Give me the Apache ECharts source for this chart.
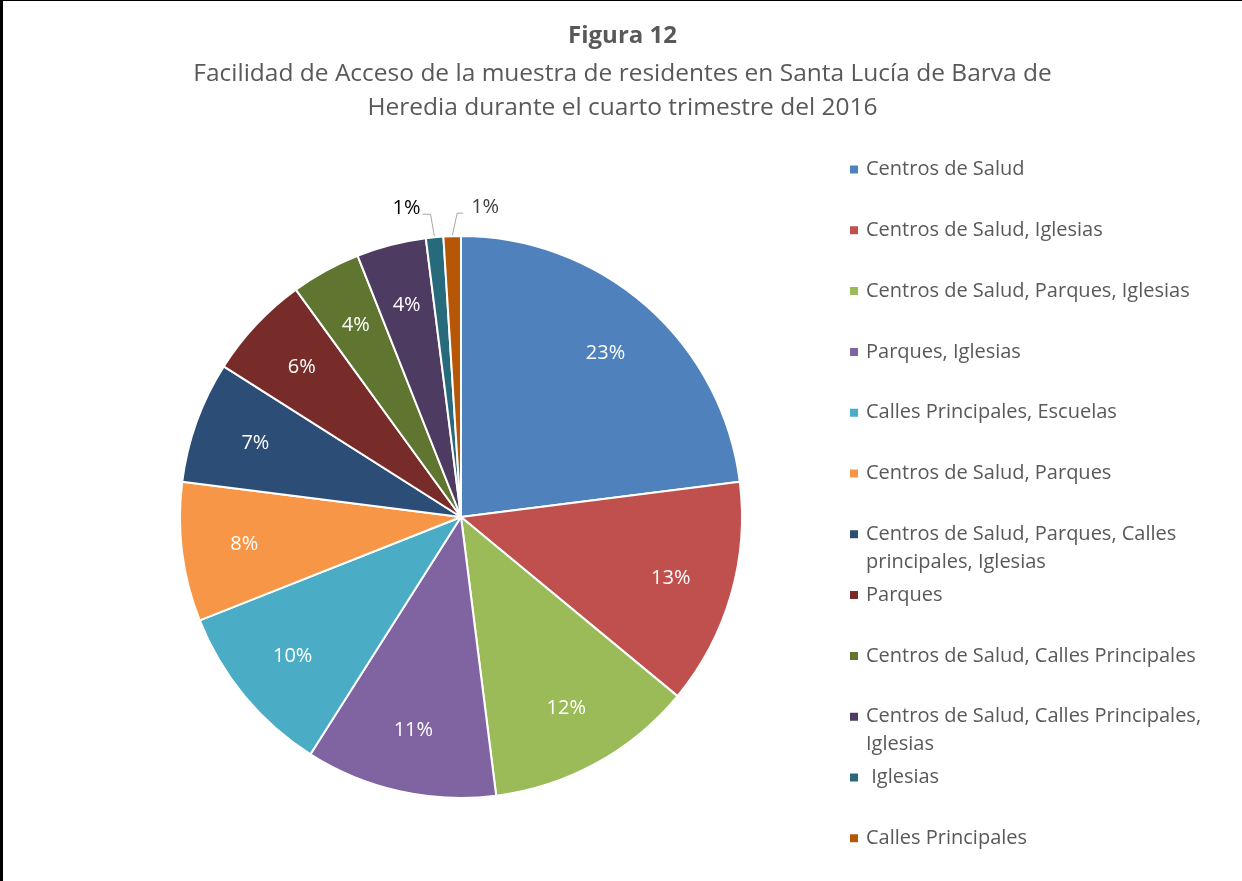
<!DOCTYPE html>
<html lang="es">
<head>
    <meta charset="UTF-8">
    <title>Figura 12</title>
    <script src="https://cdn.jsdelivr.net/npm/echarts@6/dist/echarts.min.js"></script>
    <style>
        body { margin: 0; background: #fff; }
        #main { width: 1239px; height: 880px; border-left: 3px solid #000; border-top: 1px solid #000; }
    </style>
</head>
<body>
    <div id="main"></div>
    <script>
        // datos
        var categorias = [
            'Centros de Salud',
            'Centros de Salud, Iglesias',
            'Centros de Salud, Parques, Iglesias',
            'Parques, Iglesias',
            'Calles Principales, Escuelas',
            'Centros de Salud, Parques',
            'Centros de Salud, Parques, Calles principales, Iglesias',
            'Parques',
            'Centros de Salud, Calles Principales',
            'Centros de Salud, Calles Principales, Iglesias',
            ' Iglesias',
            'Calles Principales'
        ];
        var porcentajes = [23, 13, 12, 11, 10, 8, 7, 6, 4, 4, 1, 1];
        var colores = ['#4F81BD', '#C0504D', '#9BBB59', '#8064A2', '#4BACC6', '#F79646',
            '#2C4D75', '#772C2A', '#5F7530', '#4D3B62', '#276A7C', '#B65708'];
        // texto de la leyenda con salto de linea donde Excel lo corta
        var textoLeyenda = {
            'Centros de Salud, Parques, Calles principales, Iglesias': 'Centros de Salud, Parques, Calles\nprincipales, Iglesias',
            'Centros de Salud, Calles Principales, Iglesias': 'Centros de Salud, Calles Principales,\nIglesias'
        };

        var fuente = 'Open Sans';
        var gris = '#595959';
        var chart = echarts.init(document.getElementById('main'));

        var datos = categorias.map(function (c, i) {
            return { name: c, value: porcentajes[i] };
        });

        // una leyenda por elemento para mantener el espaciado fijo de Excel
        var lh = 28;
        var leyendas = categorias.map(function (c, i) {
            var lineas = textoLeyenda[c] ? 3 : 1;
            var centro = 168.5 + i * 60.8;
            return {
                data: [c],
                left: 845,
                top: centro - lineas * lh / 2,
                icon: 'rect',
                itemWidth: 10,
                itemHeight: 10,
                itemGap: 0,
                padding: 0,
                selectedMode: false,
                formatter: function (name) {
                    return textoLeyenda[name] ? ' \n' + textoLeyenda[name] : name;
                },
                textStyle: { fontFamily: fuente, fontSize: 20, color: gris, lineHeight: lh, padding: [0, 0, 0, 2] }
            };
        });

        chart.setOption({
            color: colores,
            animation: false,
            title: [{
                text: 'Figura 12',
                left: 'center',
                top: 18,
                textStyle: { fontFamily: fuente, fontSize: 24, fontWeight: 'bold', color: gris }
            }, {
                text: 'Facilidad de Acceso de la muestra de residentes en Santa Lucía de Barva de\nHeredia durante el cuarto trimestre del 2016',
                left: 'center',
                top: 51,
                textStyle: { fontFamily: fuente, fontSize: 24.5, fontWeight: 'normal', color: gris, lineHeight: 34 }
            }],
            legend: leyendas,
            series: [{
                // sectores
                type: 'pie',
                center: [458, 516],
                radius: [0, 281],
                startAngle: 90,
                clockwise: true,
                avoidLabelOverlap: false,
                itemStyle: { borderColor: '#fff', borderWidth: 2 },
                emphasis: { disabled: true },
                label: {
                    show: true,
                    position: 'outside',
                    formatter: '{c}%',
                    fontFamily: fuente,
                    fontSize: 20,
                    color: '#404040'
                },
                labelLine: { show: true, length: 10, length2: 8, lineStyle: { color: '#a6a6a6', width: 1 } },
                labelLayout: function (p) {
                    if (p.dataIndex < 10 || !p.labelLinePoints) return;
                    var izq = p.dataIndex === 10;
                    var s = p.labelLinePoints[0];
                    var m = [s[0] + (izq ? -4 : 5), s[1] - 23];
                    var e = [m[0] + (izq ? -8 : 6), m[1]];
                    return {
                        x: e[0] + (izq ? -2 : 8),
                        y: e[1] - 6,
                        align: izq ? 'right' : 'left',
                        verticalAlign: 'middle',
                        labelLinePoints: [s, m, e]
                    };
                },
                data: datos.map(function (d, i) {
                    return i < 10 ? { name: d.name, value: d.value, label: { show: false }, labelLine: { show: false } }
                        : { name: d.name, value: d.value, label: { color: i === 10 ? '#000' : '#404040' } };
                })
            }, {
                // solo etiquetas interiores, en un anillo transparente
                type: 'pie',
                center: [458, 516],
                radius: [150, 281],
                startAngle: 90,
                silent: true,
                itemStyle: { color: 'rgba(0,0,0,0)' },
                emphasis: { disabled: true },
                label: {
                    show: true,
                    position: 'inside',
                    formatter: '{c}%',
                    fontFamily: fuente,
                    fontSize: 20,
                    color: '#fff'
                },
                labelLine: { show: false },
                data: datos.map(function (d, i) {
                    return i < 10 ? d : { name: d.name, value: d.value, label: { show: false } };
                })
            }]
        });
    </script>
</body>
</html>
